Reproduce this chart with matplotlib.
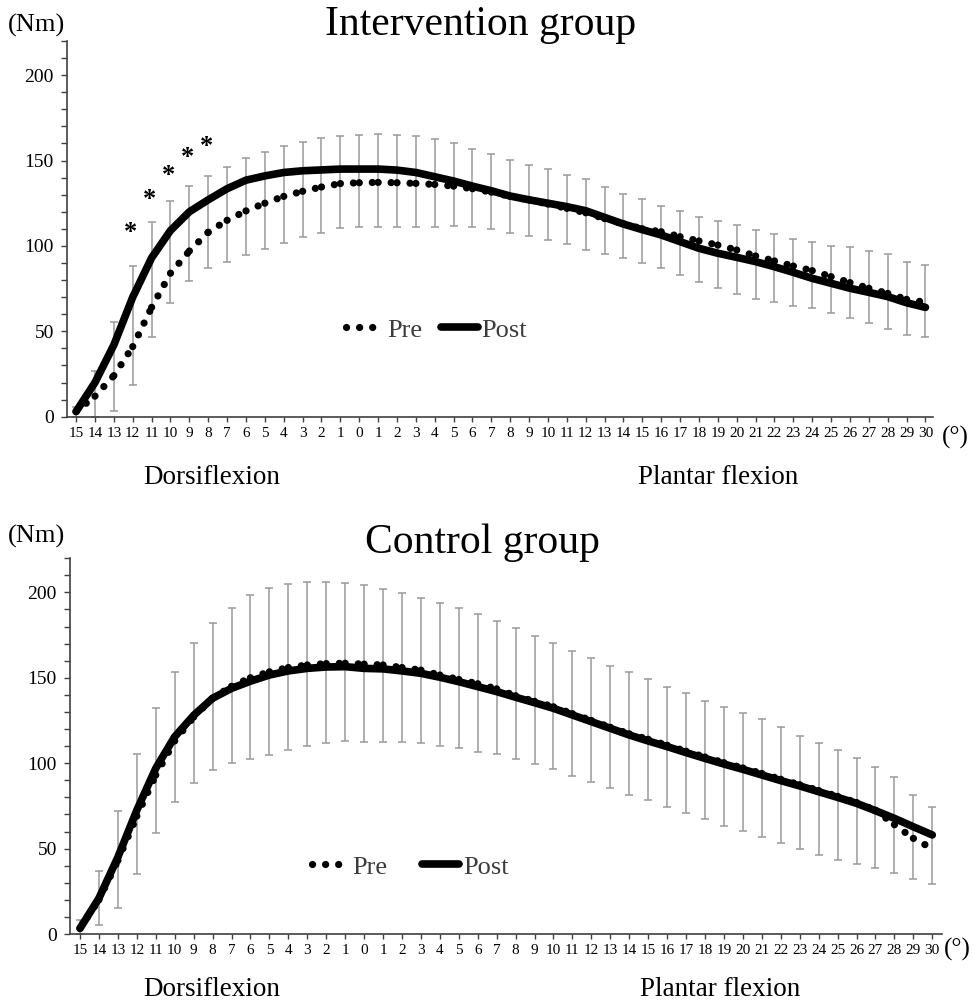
import matplotlib
matplotlib.use("Agg")
import matplotlib.pyplot as plt
from matplotlib.lines import Line2D
from matplotlib.ticker import MultipleLocator
import numpy as np

plt.rcParams['font.family'] = ['Liberation Serif', 'DejaVu Serif']

# joint angle categories: dorsiflexion 15..1, then 0, then plantar flexion 1..30
angle_labels = [str(v) for v in list(range(15, 0, -1)) + list(range(0, 31))]

# Intervention group (Nm)
int_pre = [3, 12, 24, 41, 64, 84, 97, 108, 115, 120.5, 125, 129, 132, 134.5, 136.5, 137,
           137.2, 137, 136.6, 136, 135, 133.5, 131.5, 129, 127, 124.5, 122, 119.4, 116, 113, 110,
           108.3, 105.4, 102.9, 100.5, 97.6, 94.1, 91.2, 88.2, 85.5, 82, 78.5, 75.2, 72.2, 68.7, 67]
int_post = [3, 20, 42, 70, 93, 109, 120, 127, 133.5, 138.5, 141, 143, 144, 144.5, 145, 145,
            145, 144.4, 143, 140.5, 138, 135, 132.3, 129.2, 127, 125, 123, 120.6, 116.7, 112.8, 109.5,
            106.4, 102.5, 98.6, 95.7, 93.3, 90.8, 87.8, 84.5, 81, 78.1, 75.2, 72.8, 70.3, 66.7, 64]
int_err_hi = [5.5, 27, 55.6, 88, 113.8, 126.5, 135, 141, 146.4, 151.3, 155.2, 158.5, 161, 163, 164.5, 165,
              165.5, 165, 164.3, 162.4, 160, 156.5, 153.6, 150.3, 147.2, 144.8, 141.5, 139, 134.3, 130.4, 127.3,
              123.5, 120.4, 117.1, 114.6, 112.2, 109.3, 106.8, 103.9, 102.3, 100.1, 99.2, 97.2, 95.1, 90.8, 88.8]
int_err_lo = [0, 0, 3.3, 18.5, 46.5, 66.4, 79.6, 86.9, 90.7, 94.5, 98, 101.5, 105, 107.5, 110.3, 111.2,
              111.2, 111, 111, 111, 111.5, 110.8, 109.7, 107.7, 105.8, 103.4, 100.9, 97.6, 95, 92.7, 90.2,
              86.9, 83, 79, 75.2, 71.7, 68.9, 67.3, 65, 63.5, 60.5, 58, 55, 51.5, 47.8, 46.5]
# significant differences (marked with *)
star_idx = [3, 4, 5, 6, 7]
star_y = [108, 127, 141, 152, 158]

# Control group (Nm)
con_pre = [3.5, 20, 43, 69, 93, 113, 127, 138, 145, 150, 153.5, 156, 157.5, 158.3, 158.5, 158,
           157.5, 156, 154.5, 151.6, 149, 146.5, 143.5, 139.5, 136.2, 133, 129, 125, 121, 117.2, 114,
           110.5, 107, 103.6, 100.3, 97.2, 94, 90.6, 87.4, 84, 80.6, 77, 72.5, 64, 56, 50]
con_post = [3.3, 21, 45, 72.5, 97, 115.5, 128, 138, 143.8, 148, 151.6, 154, 155.5, 156.3, 156.5, 155.5,
            155.2, 154, 152.6, 150.3, 147.7, 144.8, 141.9, 138.6, 135.4, 132.1, 128.2, 124.3, 120.4, 116.5, 113,
            109.7, 106.2, 102.8, 99.5, 96.4, 93.1, 89.8, 86.7, 83.3, 80, 76.5, 72.2, 67.7, 62.8, 58]
con_err_hi = [8, 36.9, 72, 105.2, 132.5, 153.2, 170.6, 182.3, 191, 198.5, 202.4, 204.9, 206.1, 206, 205.3, 204.3,
              202, 199.8, 196.9, 194, 190.7, 187.2, 183.5, 179.4, 174.7, 170.4, 165.7, 161.4, 157.1, 153.2, 149.3,
              144.8, 140.9, 136.4, 132.7, 129.2, 125.7, 121.4, 116.1, 111.6, 107.7, 102.8, 98, 92.1, 81.4, 74.2]
con_err_lo = [0, 5.3, 15, 34.9, 58.9, 77.5, 88.6, 96, 99.9, 102.3, 104.8, 107.7, 110.3, 111.6, 113, 112.6,
              112.6, 112.6, 111.6, 110.3, 108.7, 106.8, 105.2, 102.3, 99.5, 96.4, 92.5, 88.8, 85.3, 81.4, 78.5,
              74.2, 71, 67.1, 63.4, 60.3, 56.6, 53.1, 49.6, 46.3, 43.3, 40.8, 38.8, 35.9, 32.2, 29.3]

DOT = dict(color='black', lw=5.2, dashes=(0.01, 1.8), dash_capstyle='round')
SOLID = dict(color='black', lw=5.5, solid_capstyle='round', solid_joinstyle='round')


def panel(ax, pre, post, lo, hi, xlim, leg_xy, colspace):
    x = np.arange(len(angle_labels))
    lo = np.array(lo)
    hi = np.array(hi)
    mid = (lo + hi) / 2
    ax.errorbar(x, mid, yerr=[mid - lo, hi - mid], fmt='none', ecolor='#9a9a9a',
                elinewidth=1.1, capsize=3, capthick=1.1, zorder=1)
    # dotted pattern restarts at every point, like the original spreadsheet chart
    for k in range(len(x) - 1):
        ax.plot(x[k:k + 2], pre[k:k + 2], zorder=3, **DOT)
    ax.plot(x, post, zorder=4, **SOLID)

    ax.set_xlim(*xlim)
    ax.set_ylim(0, 220)
    ax.set_xticks(x)
    ax.set_xticklabels(angle_labels, fontsize=11)
    ax.set_yticks([0, 50, 100, 150, 200])
    ax.yaxis.set_minor_locator(MultipleLocator(10))
    ax.tick_params(axis='y', which='both', direction='out', length=4.5, width=1,
                   color='#404040', labelsize=14, pad=5)
    ax.tick_params(axis='x', direction='out', length=3.5, width=1, color='#404040', pad=4)
    for s in ['top', 'right']:
        ax.spines[s].set_visible(False)
    for s in ['left', 'bottom']:
        ax.spines[s].set_color('#404040')
        ax.spines[s].set_linewidth(1.2)

    handles = [Line2D([], [], **DOT), Line2D([], [], **SOLID)]
    leg = ax.legend(handles, ['Pre', 'Post'], loc='center', bbox_to_anchor=leg_xy, ncol=2,
                    frameon=False, fontsize=19, handlelength=1.4, handletextpad=0.15,
                    columnspacing=colspace)
    for t in leg.get_texts():
        t.set_color('#3c3c3c')


fig = plt.figure(figsize=(9.73, 10.05), dpi=100)
ax1 = fig.add_axes([0.0689, 0.5854, 0.89, 0.3738])
ax2 = fig.add_axes([0.0719, 0.0706, 0.896, 0.374])

panel(ax1, int_pre, int_post, int_err_lo, int_err_hi, (-0.48, 45.4), (0.427, 0.231), 0.7)
panel(ax2, con_pre, con_post, con_err_lo, con_err_hi, (-0.53, 45.5), (0.39, 0.179), 1.3)

for i, y in zip(star_idx, star_y):
    ax1.text(i - 0.1, y, '*', ha='center', va='center', fontsize=19, fontweight='bold')

fig.text(0.494, 0.975, 'Intervention group', ha='center', va='center', fontsize=30)
fig.text(0.496, 0.46, 'Control group', ha='center', va='center', fontsize=30)
fig.text(0.038, 0.975, '(Nm)', ha='center', va='center', fontsize=19)
fig.text(0.038, 0.466, '(Nm)', ha='center', va='center', fontsize=19)
fig.text(0.982, 0.565, '(°)', ha='center', va='center', fontsize=18)
fig.text(0.984, 0.055, '(°)', ha='center', va='center', fontsize=18)
fig.text(0.218, 0.525, 'Dorsiflexion', ha='center', va='center', fontsize=19.5)
fig.text(0.738, 0.525, 'Plantar flexion', ha='center', va='center', fontsize=19.5)
fig.text(0.218, 0.015, 'Dorsiflexion', ha='center', va='center', fontsize=19.5)
fig.text(0.740, 0.015, 'Plantar flexion', ha='center', va='center', fontsize=19.5)

fig.savefig('out.png', dpi=100)
